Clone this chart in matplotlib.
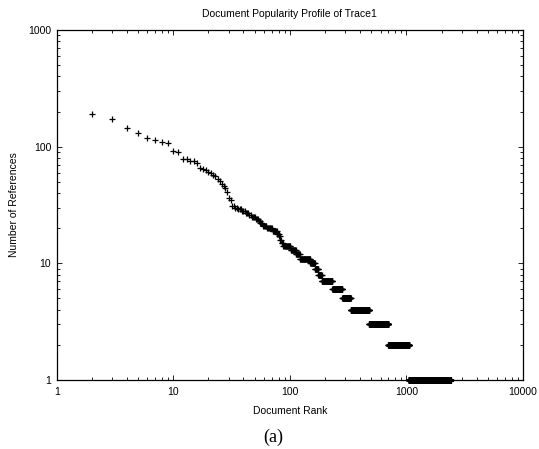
# document popularity profile (rank vs. references), log-log scatter

import matplotlib
matplotlib.use('Agg')
import matplotlib.pyplot as plt
from matplotlib.ticker import NullFormatter, LogLocator
import numpy as np

# top documents, one point each (rank 2..31)
head_ranks = list(range(2, 32))
head_refs = [190, 172, 144, 131, 119, 113, 109, 107, 92, 90,
             78, 78, 76, 75, 73, 66, 64, 63, 61, 59,
             57, 56, 53, 51, 48, 46, 44, 41, 36, 35]

# tail: reference count and the first rank that has that count
tail_refs = [31, 30, 29, 28, 27, 26, 25, 24, 23, 22, 21, 20, 19, 18, 17, 16,
             15, 14, 13, 12, 11, 10, 9, 8, 7, 6, 5, 4, 3, 2, 1]
tail_first_rank = [32, 34, 36, 39, 42, 45, 47, 51, 54, 56, 59, 64, 71, 78, 81, 83,
                   85, 88, 102, 113, 122, 150, 164, 176, 188, 232, 282, 333, 480, 700, 1050]
last_rank = 2390

x_ticks = [1, 10, 100, 1000, 10000]
y_ticks = [1, 10, 100, 1000]

# expand tail runs into one point per document
ranks = list(head_ranks)
refs = list(head_refs)
ends = tail_first_rank[1:] + [last_rank + 1]
for c, start, stop in zip(tail_refs, tail_first_rank, ends):
    r = np.arange(start, stop)
    ranks.extend(r)
    refs.extend([c] * len(r))

plt.rcParams['font.family'] = ['Liberation Sans', 'DejaVu Sans']

fig = plt.figure(figsize=(5.39, 4.49), dpi=100)
ax = fig.add_axes([56.7 / 539, 1 - 380 / 449, 466.3 / 539, 350 / 449])

ax.plot(ranks, refs, marker='+', markersize=4.5, markeredgewidth=0.9,
        linestyle='None', color='black', clip_on=False)

ax.set_xscale('log')
ax.set_yscale('log')
ax.set_xlim(1, 10000)
ax.set_ylim(1, 1000)

ax.set_xticks(x_ticks)
ax.set_xticklabels([str(v) for v in x_ticks])
ax.set_yticks(y_ticks)
ax.set_yticklabels([str(v) for v in y_ticks])
ax.xaxis.set_minor_locator(LogLocator(base=10, subs=np.arange(2, 10)))
ax.yaxis.set_minor_locator(LogLocator(base=10, subs=np.arange(2, 10)))
ax.xaxis.set_minor_formatter(NullFormatter())
ax.yaxis.set_minor_formatter(NullFormatter())

ax.tick_params(which='both', direction='in', top=True, right=True,
               labelsize=7.5, colors='black', width=0.6)
ax.tick_params(which='major', length=3.5)
ax.tick_params(which='minor', length=2)
ax.tick_params(axis='x', pad=5)
ax.tick_params(axis='y', pad=4)

for s in ax.spines.values():
    s.set_linewidth(0.9)
    s.set_color('black')

ax.set_title('Document Popularity Profile of Trace1', fontsize=7.5, pad=9)
fig.text(290 / 539, 1 - 411 / 449, 'Document Rank', fontsize=7.5,
         ha='center', va='center')
fig.text(14 / 539, 1 - 205 / 449, 'Number of References', fontsize=7.5,
         ha='center', va='center', rotation=90)
fig.text(273 / 539, 1 - 437 / 449, '(a)', fontsize=13,
         family='Liberation Serif', ha='center', va='center')

fig.savefig('out.png', dpi=100)
